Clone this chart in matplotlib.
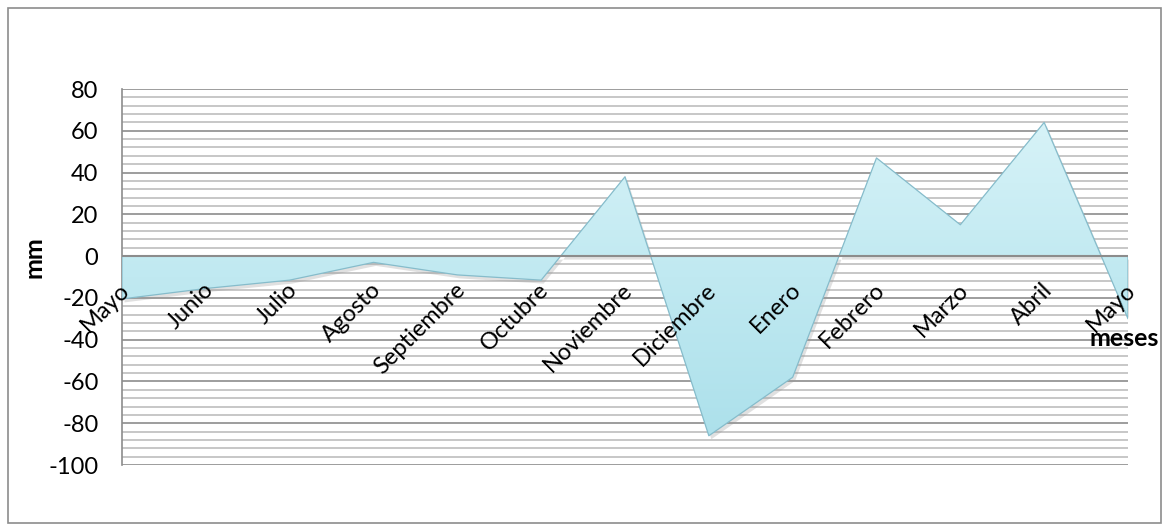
import numpy as np
import matplotlib
matplotlib.use("Agg")
import matplotlib.pyplot as plt
from matplotlib.patches import PathPatch, Rectangle
from matplotlib.transforms import offset_copy
from matplotlib.ticker import MultipleLocator

# Excedente / deficit de lluvia por mes
meses = ["Mayo", "Junio", "Julio", "Agosto", "Septiembre", "Octubre", "Noviembre",
         "Diciembre", "Enero", "Febrero", "Marzo", "Abril", "Mayo"]
valores = [-20.5, -15.5, -11.5, -3, -9, -11.5, 38, -86, -58, 47, 15, 64, -30]

plt.rcParams['font.family'] = ['Lato', 'DejaVu Sans']
plt.rcParams['axes.unicode_minus'] = False

fig = plt.figure(figsize=(11.69, 5.31), dpi=100)
W, H = 1169, 531
ax = fig.add_axes([122 / W, 1 - 465 / H, (1128 - 122) / W, (465 - 89) / H])

x = np.arange(len(meses))
ax.set_xlim(0, len(meses) - 1)
ax.set_ylim(-100, 80)

# gridlines
ax.yaxis.set_major_locator(MultipleLocator(20))
ax.yaxis.set_minor_locator(MultipleLocator(4))
ax.grid(axis='y', which='major', color='#8c8c8c', linewidth=1.2, zorder=0)
ax.grid(axis='y', which='minor', color='#bdbdbd', linewidth=1.2, zorder=0)
ax.tick_params(axis='y', which='both', length=0, labelsize=17, pad=17)
ax.tick_params(axis='x', length=0, labelbottom=False)
ax.set_axisbelow(True)

for s in ['top', 'right', 'bottom']:
    ax.spines[s].set_visible(False)
ax.spines['left'].set_color('#8c8c8c')
ax.spines['left'].set_linewidth(1.2)

# shadow
sh = offset_copy(ax.transData, fig=fig, x=2, y=-3, units='dots')
ax.fill_between(x, valores, 0, color='#9a9a9a', alpha=0.3, lw=0, transform=sh, zorder=1)

# area with gradient fill
poly = ax.fill_between(x, valores, 0, facecolor='#c2eaf2', edgecolor='none', zorder=2)
grad = np.linspace(0, 1, 256).reshape(-1, 1)
cmap = matplotlib.colors.LinearSegmentedColormap.from_list(
    'agua', ['#dcf5f9', '#c0e9f1', '#a9dfea'])
im = ax.imshow(grad, extent=[0, len(meses) - 1, -100, 80], origin='upper',
               aspect='auto', cmap=cmap, zorder=3)
clip = PathPatch(poly.get_paths()[0], transform=ax.transData, facecolor='none',
                 edgecolor='none')
ax.add_patch(clip)
im.set_clip_path(clip)
ax.fill_between(x, valores, 0, facecolor='none', edgecolor='#86bccb',
                linewidth=0.9, zorder=4)

ax.axhline(0, color='#8c8c8c', linewidth=1.5, zorder=5)

# month labels along zero line
lab_tr = offset_copy(ax.transData, fig=fig, x=-3, y=-23, units='dots')
for i, m in enumerate(meses):
    ax.text(i, 0, m, rotation=45, ha='right', va='top', rotation_mode='anchor',
            fontsize=17, transform=lab_tr, zorder=6, clip_on=False)

fig.text(34 / W, 1 - 257 / H, "mm", rotation=90, fontsize=18, fontweight='bold',
         ha='center', va='center')
fig.text(1124 / W, 1 - 338 / H, "meses", fontsize=18, fontweight='bold',
         ha='center', va='center')

fig.patches.append(Rectangle((8 / W, 8 / H), (1161 - 8) / W, (523 - 8) / H,
                             transform=fig.transFigure, fill=False,
                             edgecolor='#8c8c8c', linewidth=1.2))

fig.savefig("out.png", dpi=100)
